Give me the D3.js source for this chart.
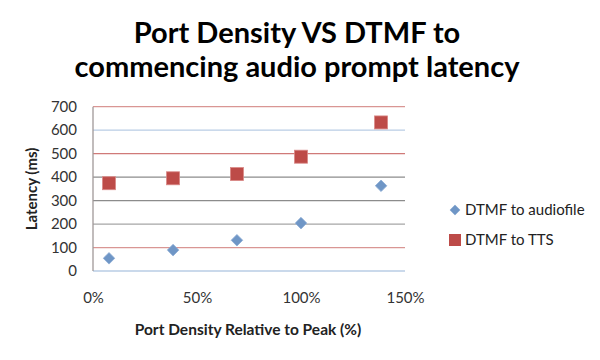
<!DOCTYPE html>
<html><head><meta charset="utf-8">
<script src="https://cdn.jsdelivr.net/npm/d3@7"></script>
<style>body{margin:0;background:#fff}svg{display:block}</style>
</head><body><svg id="c" width="600" height="360"></svg>
<script>
const titleLines = ["Port Density VS DTMF to", "commencing audio prompt latency"];
const xValues = [0.077, 0.385, 0.692, 1.0, 1.385];
const audiofile = [54, 89, 131, 204, 363];
const tts = [374, 395, 413, 487, 633];
const seriesNames = ["DTMF to audiofile", "DTMF to TTS"];
const yTicks = [0, 100, 200, 300, 400, 500, 600, 700];
const xTicks = [0, 0.5, 1.0, 1.5];
const gridColors = ["#b9cde5", "#d99694", "#a6a6a6", "#8c8c8c", "#8c8c8c", "#d07a78", "#b9cde5", "#d99694"];

const svg = d3.select("#c");
const font = "Lato, 'Open Sans', sans-serif";
const L = 93, R = 405, T = 106.7, B = 271;
const x = d3.scaleLinear().domain([0, 1.5]).range([L, R]);
const y = d3.scaleLinear().domain([0, 700]).range([B, T]);

svg.append("g").selectAll("text").data(titleLines).join("text")
  .attr("x", 297).attr("y", (d, i) => 43 + i * 34)
  .attr("text-anchor", "middle").attr("font-family", font).attr("font-weight", "bold")
  .attr("font-size", 29).attr("fill", "#000").text(d => d);

// gridlines
svg.append("g").selectAll("line").data(yTicks).join("line")
  .attr("x1", L).attr("x2", R).attr("y1", d => y(d)).attr("y2", d => y(d))
  .attr("stroke", (d, i) => gridColors[i]).attr("stroke-width", 1.3);
// y axis line
svg.append("line").attr("x1", L).attr("x2", L).attr("y1", T).attr("y2", B)
  .attr("stroke", "#a09898").attr("stroke-width", 1.3);

const yAxis = svg.append("g").attr("transform", `translate(${L},0)`)
  .call(d3.axisLeft(y).tickValues(yTicks).tickSize(0).tickPadding(16));
yAxis.select(".domain").remove();
yAxis.selectAll("text").attr("font-family", font).attr("font-size", 15).attr("fill", "#333");

const xAxis = svg.append("g").attr("transform", `translate(0,${B})`)
  .call(d3.axisBottom(x).tickValues(xTicks).tickFormat(d3.format(".0%")).tickSize(0).tickPadding(21));
xAxis.select(".domain").remove();
xAxis.selectAll("text").attr("font-family", font).attr("font-size", 15).attr("fill", "#333");

svg.append("text").attr("transform", "translate(37,189) rotate(-90)")
  .attr("text-anchor", "middle").attr("font-family", font).attr("font-weight", "bold")
  .attr("font-size", 15).attr("fill", "#222").text("Latency (ms)");
svg.append("text").attr("x", 248).attr("y", 335)
  .attr("text-anchor", "middle").attr("font-family", font).attr("font-weight", "bold")
  .attr("font-size", 15.5).attr("fill", "#222").text("Port Density Relative to Peak (%)");

const diamond = d3.symbol().type(d3.symbolDiamond2).size(85);
svg.append("g").selectAll("path").data(xValues).join("path")
  .attr("d", diamond)
  .attr("transform", (d, i) => `translate(${x(d)},${y(audiofile[i])})`)
  .attr("fill", "#6f96c6").attr("stroke", "#8aabd4").attr("stroke-width", 0.8);
svg.append("g").selectAll("rect").data(xValues).join("rect")
  .attr("x", d => x(d) - 6.5).attr("y", (d, i) => y(tts[i]) - 6.5)
  .attr("width", 13).attr("height", 13)
  .attr("fill", "#bd4b48").attr("stroke", "#d98886").attr("stroke-width", 0.8);

// legend
const lg = svg.append("g");
lg.append("path").attr("d", d3.symbol().type(d3.symbolDiamond2).size(70))
  .attr("transform", "translate(455,210)").attr("fill", "#6f96c6");
lg.append("rect").attr("x", 449).attr("y", 234).attr("width", 12).attr("height", 12).attr("fill", "#bd4b48");
lg.selectAll("text").data(seriesNames).join("text")
  .attr("x", 465).attr("y", (d, i) => 215 + i * 30)
  .attr("font-family", font).attr("font-size", 15).attr("fill", "#222").text(d => d);
</script></body></html>
